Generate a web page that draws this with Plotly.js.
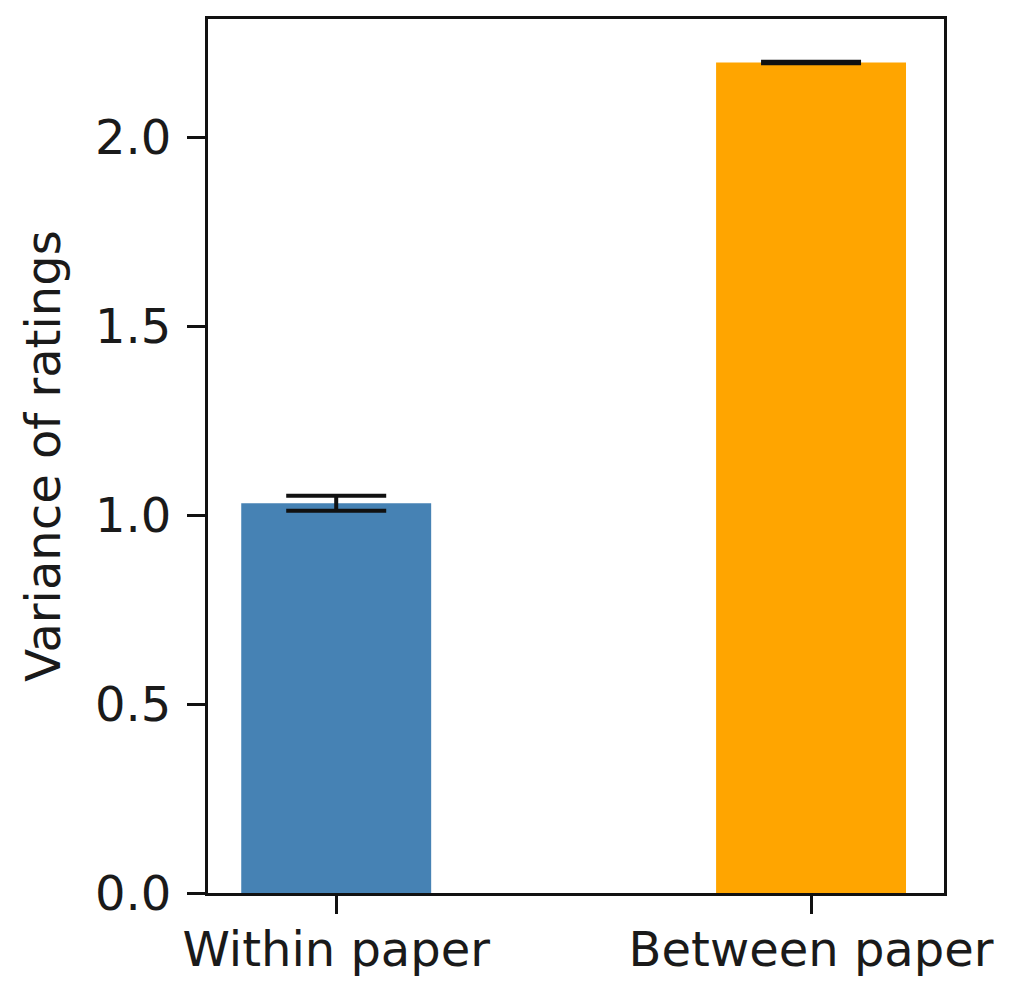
<!DOCTYPE html>
<html>
<head>
<meta charset="utf-8">
<script src="https://cdn.plot.ly/plotly-3.0.1.min.js"></script>
<style>html,body{margin:0;padding:0;background:#fff;}#chart{width:1024px;height:1002px;}</style>
</head>
<body>
<div id="chart"></div>
<script>
const categories = ["Within paper", "Between paper"];
const positions = [0, 1];
const values = [1.032, 2.199];
const errors = [0.02, 0.002];
const colors = ["#4682B4", "#FFA500"];
const yTicks = [0.0, 0.5, 1.0, 1.5, 2.0];
const yTickText = ["0.0", "0.5", "1.0", "1.5", "2.0"];

const font = {family: "DejaVu Sans, sans-serif", size: 48, color: "#1a1a1a"};

Plotly.newPlot("chart", [{
  type: "bar",
  x: positions,
  y: values,
  width: 0.4,
  marker: {color: colors, line: {width: 0}},
  error_y: {type: "data", array: errors, visible: true, color: "#111", thickness: 4, width: 50},
  hoverinfo: "none"
}], {
  width: 1024, height: 1002,
  margin: {l: 208, r: 80, t: 19, b: 109, pad: 0},
  paper_bgcolor: "#fff", plot_bgcolor: "#fff",
  showlegend: false,
  font: font,
  xaxis: {
    range: [-0.27, 1.28],
    tickvals: positions, ticktext: categories,
    showgrid: false, zeroline: false,
    showline: true, mirror: true, linecolor: "#111", linewidth: 3,
    ticks: "outside", ticklen: 18, tickwidth: 3, tickcolor: "#111",
    tickfont: font, automargin: false, ticklabelstandoff: -6
  },
  yaxis: {
    range: [0, 2.314],
    tickvals: yTicks, ticktext: yTickText,
    showgrid: false, zeroline: false,
    showline: true, mirror: true, linecolor: "#111", linewidth: 3,
    ticks: "outside", ticklen: 18, tickwidth: 3, tickcolor: "#111",
    tickfont: font, automargin: false, ticklabelstandoff: 6,
    title: {text: "Variance of ratings", font: font, standoff: 20}
  }
}, {staticPlot: true});
</script>
</body>
</html>
